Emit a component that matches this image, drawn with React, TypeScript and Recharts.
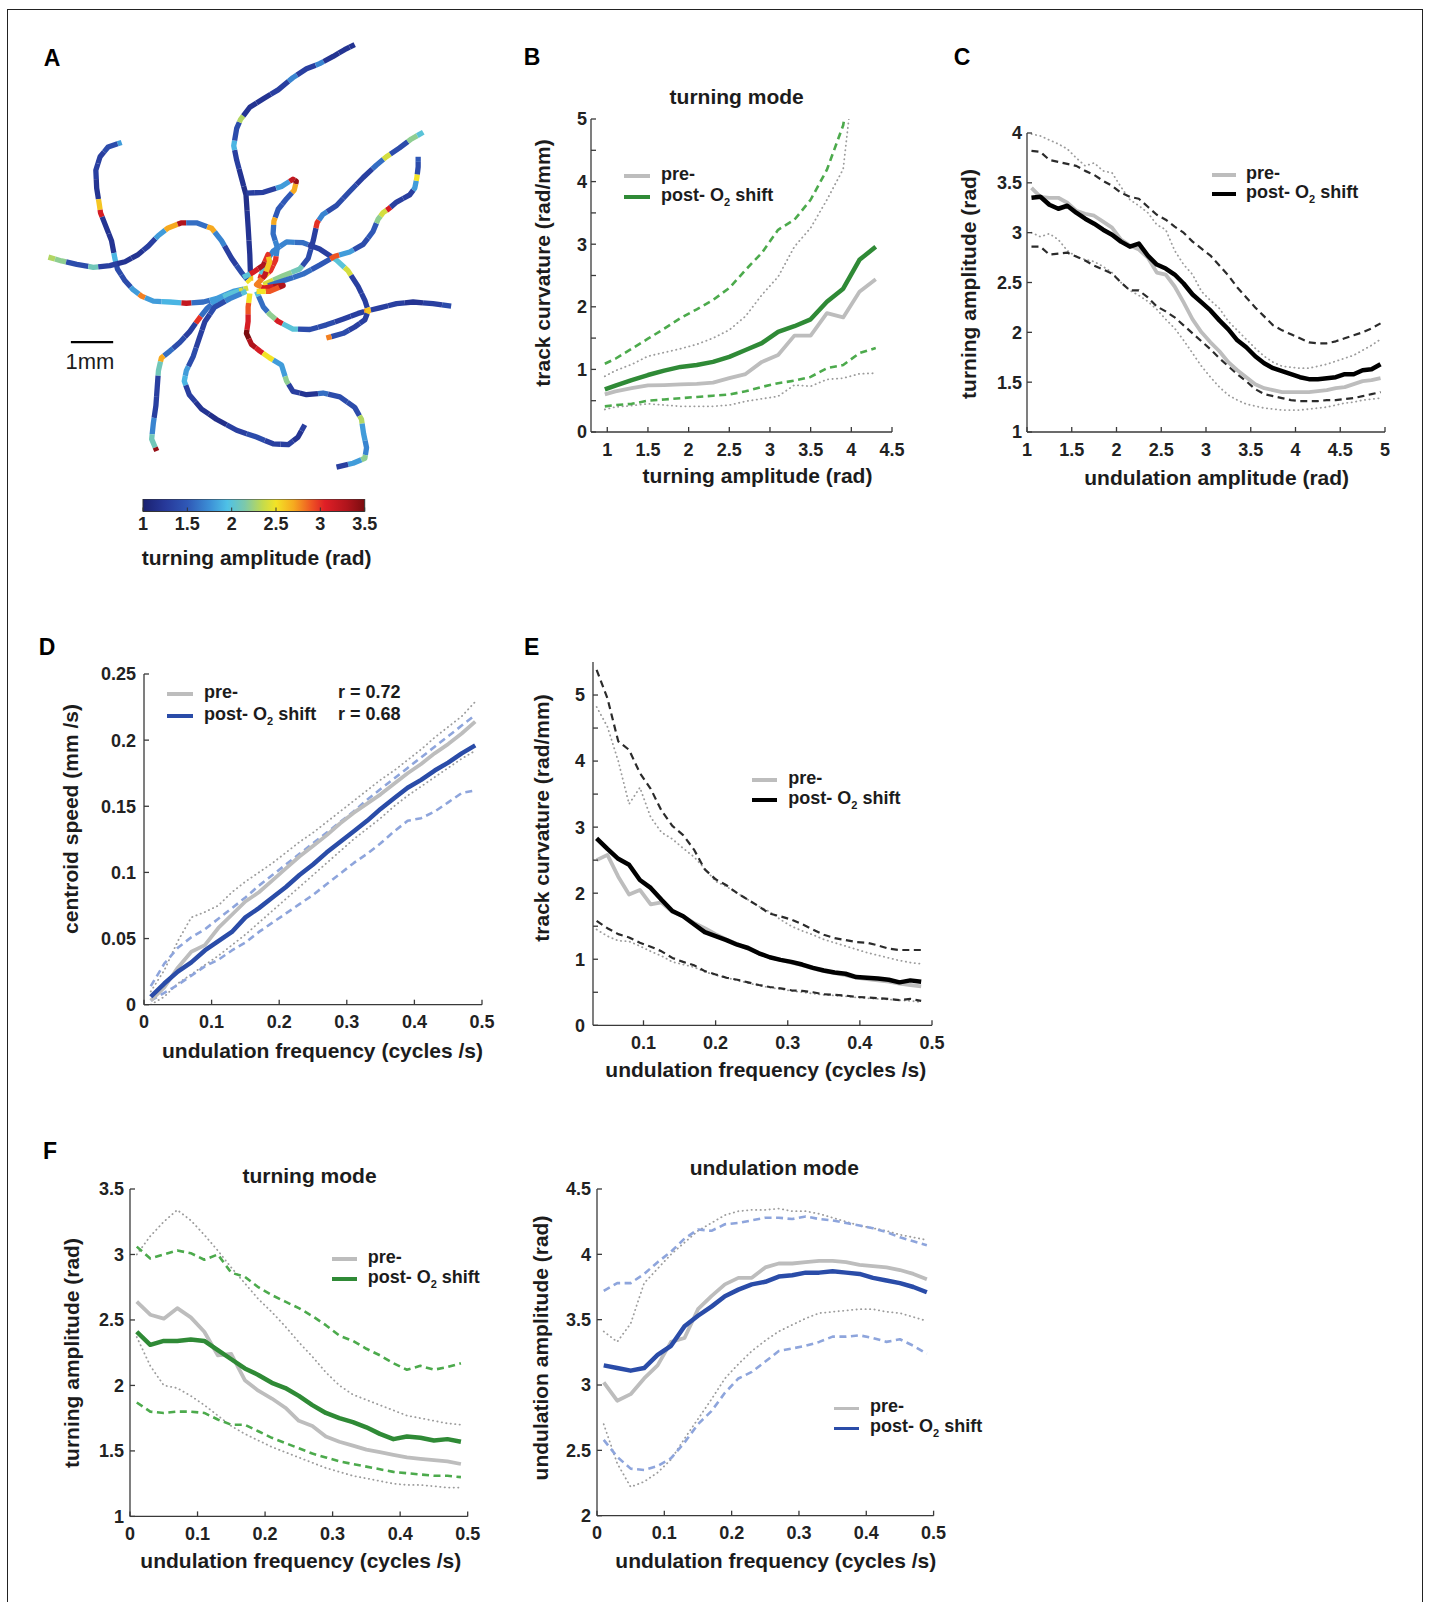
import React from 'react';
import { LineChart, Line, XAxis, YAxis, ScatterChart, Scatter, ReferenceLine, ComposedChart, Area } from 'recharts';

const FONT = '"Liberation Sans", Arial, Helvetica, sans-serif';
const INK = '#1c1c1c';
const AXIS_COL = '#3a3a3a';
const GRAY = '#bdbdbd';
const GRAY_DOT = '#9c9c9c';
const GREEN = '#2f8a36';
const GREEN_DASH = '#4caa4c';
const BLACK = '#000000';
const BLACK_DASH = '#2b2b2b';
const BLUE = '#2a4ca8';
const BLUE_DASH = '#8ea5dc';

// ---------------- Panel A: worm tracks [x mm, y mm, turning amplitude rad] ----------------
const T1 = [[-0.02,0.17,2.6],[-0.04,0.79,1.2],[-0.08,1.45,1.2],[-0.13,2.20,1.15],[-0.24,2.61,1.2],[-0.35,3.02,1.3],[-0.42,3.36,1.9],[-0.35,3.77,1.4],[-0.26,3.98,2.3],[-0.04,4.27,1.2],[0.28,4.47,1.2],[0.63,4.68,1.3],[0.98,4.97,1.7],[1.30,5.18,1.3],[1.61,5.30,1.7],[1.93,5.47,1.2],[2.20,5.63,1.2],[2.44,5.75,1.2]];
const T2 = [[-0.12,2.24,1.3],[0.28,2.26,1.3],[0.71,2.40,1.8],[0.98,2.57,3.2],[1.06,2.52,3.4],[1.01,2.31,2.7],[0.83,2.11,1.5],[0.63,1.86,1.5],[0.53,1.58,2.7],[0.51,1.28,1.6],[0.61,0.96,1.7],[0.57,0.66,3.0],[0.45,0.41,3.0],[0.28,0.25,2.6]];
const T3 = [[-3.07,3.44,1.8],[-3.39,3.33,1.4],[-3.58,3.10,1.3],[-3.68,2.78,1.3],[-3.66,2.36,1.2],[-3.60,1.99,2.6],[-3.57,1.78,3.1],[-3.44,1.45,1.2],[-3.31,1.12,1.2],[-3.23,0.70,1.9],[-3.17,0.45,1.4],[-2.99,0.17,1.4],[-2.80,-0.04,1.8],[-2.60,-0.19,2.8],[-2.32,-0.31,1.8],[-1.93,-0.33,1.9],[-1.54,-0.36,3.2],[-1.14,-0.33,1.6],[-0.83,-0.25,1.8],[-0.43,-0.08,1.8],[-0.08,0.00,2.4]];
const T4 = [[-4.80,0.73,2.3],[-4.49,0.64,2.2],[-4.13,0.56,1.4],[-3.74,0.49,2.1],[-3.35,0.53,1.3],[-2.99,0.62,1.2],[-2.68,0.79,1.2],[-2.44,0.99,1.3],[-2.20,1.24,1.8],[-1.97,1.42,2.7],[-1.65,1.54,3.3],[-1.30,1.54,1.6],[-0.94,1.41,2.7],[-0.71,1.12,1.7],[-0.47,0.70,1.3],[-0.24,0.37,1.4],[-0.04,0.13,2.5]];
const T5 = [[-0.20,-0.04,2.4],[-0.51,-0.14,2.0],[-0.83,-0.29,1.8],[-1.06,-0.49,1.6],[-1.26,-0.75,3.0],[-1.46,-1.03,1.3],[-1.69,-1.28,1.4],[-1.93,-1.49,1.6],[-2.13,-1.65,2.7],[-2.20,-1.95,2.1],[-2.23,-2.36,1.3],[-2.26,-2.78,1.3],[-2.32,-3.19,1.7],[-2.36,-3.57,2.1],[-2.24,-3.85,3.4]];
const T6 = [[-0.12,-0.08,2.0],[-0.51,-0.25,1.7],[-0.87,-0.45,1.4],[-1.10,-0.79,1.3],[-1.24,-1.20,1.3],[-1.38,-1.62,1.4],[-1.54,-1.95,1.8],[-1.59,-2.20,1.9],[-1.47,-2.52,1.3],[-1.18,-2.86,1.2],[-0.83,-3.10,1.15],[-0.35,-3.36,1.3],[0.12,-3.52,1.4],[0.51,-3.68,1.3],[0.87,-3.70,1.3],[1.10,-3.52,1.2],[1.26,-3.23,1.3]];
const T7 = [[-0.04,-0.13,2.5],[-0.08,-0.45,2.9],[-0.08,-0.79,3.1],[-0.12,-1.07,3.5],[0.00,-1.33,3.3],[0.20,-1.49,3.1],[0.43,-1.65,2.5],[0.71,-1.82,1.8],[0.83,-2.20,2.2],[0.98,-2.44,1.3],[1.30,-2.52,1.2],[1.69,-2.48,1.6],[2.09,-2.57,1.4],[2.44,-2.82,1.4],[2.60,-3.10,2.3],[2.65,-3.44,1.8],[2.72,-3.77,1.7],[2.68,-4.02,2.2],[2.40,-4.14,1.8],[2.01,-4.23,1.3]];
const T8 = [[0.12,-0.08,2.0],[0.28,-0.45,1.6],[0.43,-0.62,2.2],[0.63,-0.79,3.1],[0.98,-0.97,2.0],[1.38,-0.98,1.4],[1.77,-0.87,1.4],[2.17,-0.73,1.3],[2.52,-0.60,1.3],[2.73,-0.54,2.8],[3.03,-0.47,1.3],[3.43,-0.37,1.3],[3.82,-0.33,1.2],[4.29,-0.37,1.3],[4.72,-0.43,1.4]];
const T9 = [[0.20,0.21,3.0],[0.31,0.58,2.0],[0.51,0.87,1.7],[0.83,1.09,1.7],[1.22,1.07,1.6],[1.61,0.92,1.3],[2.01,0.66,2.0],[2.28,0.41,2.4],[2.52,0.04,1.3],[2.68,-0.29,1.3],[2.76,-0.54,2.6],[2.68,-0.75,1.3],[2.44,-0.92,1.3],[2.17,-1.07,1.4],[1.77,-1.18,2.8]];
const T10 = [[0.28,0.08,2.4],[0.75,0.29,2.2],[1.14,0.45,2.1],[1.34,0.70,1.4],[1.46,1.12,1.3],[1.55,1.54,3.0],[1.69,1.74,1.7],[2.01,1.95,1.4],[2.32,2.28,1.4],[2.64,2.61,1.3],[2.95,2.90,1.6],[3.19,3.10,2.4],[3.50,3.31,1.4],[3.78,3.52,2.2],[4.06,3.68,2.0]];
const T11 = [[0.24,0.00,2.5],[0.75,0.17,1.6],[1.22,0.33,1.6],[1.61,0.54,1.5],[1.97,0.75,2.9],[2.32,0.85,1.8],[2.64,1.03,1.4],[2.87,1.33,1.5],[2.99,1.62,2.2],[3.11,1.78,2.4],[3.23,1.86,3.1],[3.43,2.03,1.3],[3.74,2.20,1.3],[3.86,2.36,1.8],[3.91,2.61,2.5],[3.94,2.86,1.4],[3.94,3.10,1.5]];
const T12 = [[-0.20,0.25,2.0],[0.04,0.37,3.1],[0.28,0.54,3.3],[0.39,0.79,3.0],[0.43,0.62,2.6],[0.31,0.29,3.2],[0.12,0.08,2.8],[0.28,0.00,3.1],[0.75,0.06,3.3],[0.43,-0.08,2.9],[0.12,-0.08,2.5]];
const TRACKS = [T1, T2, T3, T4, T5, T6, T7, T8, T9, T10, T11, T12];
const SCALE_BAR = [{ x: -4.27, y: -1.28 }, { x: -3.27, y: -1.28 }];
const CBAR_TICKS = [1, 1.5, 2, 2.5, 3, 3.5];
const CBAR = [{ x: 1, v: 1 }, { x: 3.5, v: 1 }];

// ---------------- Panel B ----------------
const B_X = [0.97,1.1,1.3,1.5,1.7,1.9,2.1,2.3,2.5,2.7,2.9,3.1,3.3,3.5,3.7,3.9,4.1,4.3];
const B_post = [0.68,0.74,0.83,0.91,0.98,1.04,1.07,1.12,1.2,1.31,1.42,1.6,1.69,1.8,2.08,2.29,2.75,2.96];
const B_pre = [0.6,0.65,0.7,0.745,0.75,0.76,0.77,0.79,0.86,0.925,1.12,1.23,1.54,1.54,1.9,1.83,2.24,2.44];
const B_postHi = [1.09,1.17,1.33,1.49,1.65,1.82,1.96,2.11,2.3,2.59,2.86,3.23,3.39,3.71,4.19,4.9,6.5,7.5];
const B_postLo = [0.41,0.43,0.45,0.5,0.52,0.54,0.56,0.58,0.6,0.65,0.72,0.78,0.82,0.88,1.02,1.07,1.26,1.34];
const B_preHi = [0.89,0.98,1.08,1.21,1.27,1.33,1.4,1.5,1.63,1.85,2.19,2.48,2.96,3.26,3.71,4.2,6.5,7.5];
const B_preLo = [0.36,0.4,0.42,0.45,0.43,0.41,0.41,0.41,0.43,0.49,0.53,0.57,0.75,0.73,0.84,0.86,0.93,0.94];

// ---------------- Panel C ----------------
const C_X = [1.05,1.15,1.25,1.35,1.45,1.55,1.65,1.75,1.85,1.95,2.05,2.15,2.25,2.35,2.45,2.55,2.65,2.75,2.85,2.95,3.05,3.15,3.25,3.35,3.45,3.55,3.65,3.75,3.85,3.95,4.05,4.15,4.25,4.35,4.45,4.55,4.65,4.75,4.85,4.95];
const C_post = [3.35,3.36,3.28,3.24,3.27,3.2,3.14,3.09,3.03,2.98,2.91,2.86,2.89,2.77,2.68,2.64,2.58,2.49,2.38,2.3,2.22,2.12,2.03,1.92,1.85,1.76,1.69,1.64,1.61,1.58,1.55,1.53,1.53,1.54,1.55,1.58,1.58,1.62,1.63,1.68];
const C_pre = [3.45,3.36,3.35,3.35,3.3,3.22,3.19,3.17,3.11,3.05,2.93,2.87,2.83,2.75,2.6,2.58,2.46,2.3,2.13,2.0,1.9,1.81,1.7,1.62,1.55,1.48,1.44,1.42,1.4,1.4,1.4,1.4,1.41,1.42,1.44,1.45,1.48,1.51,1.52,1.54];
const C_postHi = [3.82,3.81,3.73,3.71,3.69,3.67,3.62,3.58,3.52,3.47,3.4,3.36,3.34,3.26,3.18,3.13,3.06,3.0,2.91,2.84,2.77,2.67,2.57,2.45,2.35,2.25,2.16,2.07,2.02,1.98,1.94,1.9,1.89,1.89,1.91,1.94,1.97,2.0,2.04,2.09];
const C_postLo = [2.86,2.86,2.78,2.79,2.8,2.76,2.72,2.67,2.63,2.59,2.5,2.42,2.42,2.35,2.26,2.21,2.15,2.07,1.99,1.91,1.83,1.74,1.66,1.58,1.51,1.43,1.38,1.36,1.34,1.32,1.31,1.31,1.31,1.32,1.32,1.33,1.34,1.36,1.38,1.4];
const C_preHi = [3.99,3.97,3.93,3.89,3.84,3.75,3.67,3.7,3.62,3.6,3.46,3.33,3.27,3.2,3.08,3.03,2.82,2.68,2.58,2.41,2.32,2.24,2.11,2.02,1.93,1.84,1.76,1.7,1.66,1.65,1.64,1.64,1.66,1.68,1.71,1.74,1.77,1.82,1.87,1.93];
const C_preLo = [3.0,2.96,2.99,2.93,2.82,2.76,2.73,2.71,2.66,2.6,2.5,2.42,2.37,2.31,2.23,2.13,2.04,1.92,1.79,1.66,1.55,1.45,1.37,1.32,1.28,1.26,1.24,1.23,1.22,1.22,1.22,1.23,1.24,1.25,1.27,1.29,1.3,1.32,1.33,1.34];

// ---------------- Panel D ----------------
const D_X = [0.01,0.03,0.05,0.07,0.09,0.11,0.13,0.15,0.17,0.19,0.21,0.23,0.25,0.27,0.29,0.31,0.33,0.35,0.37,0.39,0.41,0.43,0.45,0.47,0.49];
const D_post = [0.006,0.016,0.025,0.032,0.041,0.048,0.055,0.066,0.073,0.081,0.089,0.098,0.106,0.115,0.123,0.131,0.139,0.148,0.156,0.164,0.17,0.177,0.183,0.19,0.196];
const D_pre = [0.003,0.013,0.028,0.04,0.045,0.058,0.068,0.078,0.085,0.094,0.103,0.112,0.12,0.128,0.137,0.145,0.152,0.159,0.167,0.175,0.182,0.19,0.197,0.205,0.214];
const D_postHi = [0.014,0.031,0.043,0.051,0.057,0.065,0.073,0.081,0.09,0.098,0.106,0.114,0.122,0.13,0.138,0.146,0.155,0.163,0.171,0.179,0.187,0.195,0.203,0.211,0.219];
const D_postLo = [0.003,0.009,0.015,0.022,0.029,0.034,0.041,0.047,0.055,0.062,0.069,0.076,0.083,0.091,0.099,0.107,0.114,0.122,0.131,0.139,0.141,0.146,0.153,0.16,0.162];
const D_preHi = [0.01,0.026,0.048,0.066,0.07,0.075,0.085,0.093,0.1,0.107,0.115,0.123,0.13,0.138,0.146,0.154,0.162,0.17,0.177,0.185,0.193,0.202,0.21,0.218,0.229];
const D_preLo = [0.0,0.006,0.016,0.023,0.03,0.037,0.045,0.053,0.062,0.071,0.08,0.089,0.098,0.107,0.116,0.125,0.133,0.141,0.15,0.158,0.165,0.172,0.179,0.186,0.192];
const D_R = ['r = 0.72', 'r = 0.68'];

// ---------------- Panel E ----------------
const E_X = [0.035,0.05,0.065,0.08,0.095,0.11,0.125,0.14,0.155,0.17,0.185,0.2,0.215,0.23,0.245,0.26,0.275,0.29,0.305,0.32,0.335,0.35,0.365,0.38,0.395,0.41,0.425,0.44,0.455,0.47,0.485];
const E_post = [2.83,2.67,2.52,2.43,2.2,2.08,1.9,1.73,1.65,1.53,1.41,1.35,1.29,1.22,1.17,1.09,1.03,0.99,0.96,0.92,0.87,0.83,0.8,0.78,0.73,0.72,0.71,0.69,0.65,0.68,0.66];
const E_pre = [2.5,2.58,2.25,1.98,2.05,1.83,1.86,1.72,1.65,1.55,1.47,1.38,1.3,1.23,1.16,1.09,1.03,0.99,0.95,0.91,0.86,0.82,0.79,0.76,0.72,0.7,0.68,0.66,0.63,0.61,0.59];
const E_postHi = [5.38,4.95,4.3,4.17,3.82,3.58,3.25,3.02,2.88,2.66,2.36,2.21,2.12,2.0,1.9,1.8,1.69,1.65,1.6,1.53,1.45,1.37,1.32,1.29,1.26,1.25,1.21,1.16,1.14,1.14,1.14];
const E_postLo = [1.58,1.47,1.38,1.33,1.25,1.19,1.12,1.02,0.96,0.91,0.82,0.77,0.72,0.69,0.65,0.61,0.58,0.56,0.53,0.52,0.5,0.47,0.46,0.45,0.43,0.42,0.41,0.4,0.38,0.4,0.37];
const E_preHi = [4.82,4.52,4.0,3.35,3.6,3.15,2.92,2.82,2.68,2.55,2.37,2.18,2.1,2.0,1.9,1.8,1.72,1.6,1.5,1.43,1.37,1.3,1.25,1.2,1.15,1.1,1.06,1.02,0.98,0.95,0.93];
const E_preLo = [1.45,1.35,1.28,1.27,1.2,1.12,1.05,0.96,0.92,0.88,0.81,0.76,0.72,0.68,0.64,0.6,0.57,0.55,0.52,0.5,0.48,0.46,0.45,0.44,0.42,0.41,0.4,0.39,0.38,0.37,0.35];

// ---------------- Panel F (turning mode / undulation mode) ----------------
const F_X = D_X;
const F1_post = [2.41,2.31,2.34,2.34,2.35,2.34,2.27,2.2,2.13,2.08,2.02,1.98,1.92,1.85,1.79,1.75,1.72,1.68,1.63,1.59,1.61,1.6,1.58,1.59,1.57];
const F1_pre = [2.64,2.54,2.51,2.59,2.52,2.41,2.23,2.24,2.04,1.96,1.9,1.83,1.73,1.69,1.61,1.57,1.54,1.51,1.49,1.47,1.45,1.44,1.43,1.42,1.4];
const F1_postHi = [3.06,2.97,3.0,3.03,3.01,2.96,3.0,2.86,2.83,2.75,2.69,2.64,2.59,2.53,2.46,2.38,2.34,2.28,2.23,2.17,2.12,2.15,2.12,2.14,2.17];
const F1_postLo = [1.87,1.8,1.79,1.8,1.8,1.79,1.74,1.7,1.7,1.65,1.6,1.56,1.52,1.48,1.45,1.42,1.4,1.38,1.36,1.34,1.33,1.32,1.31,1.31,1.3];
const F1_preHi = [3.0,3.14,3.25,3.34,3.26,3.15,3.03,2.9,2.78,2.66,2.56,2.45,2.33,2.22,2.1,2.0,1.93,1.89,1.85,1.81,1.77,1.75,1.73,1.71,1.7];
const F1_preLo = [2.37,2.15,2.0,1.98,1.92,1.85,1.77,1.69,1.63,1.58,1.53,1.49,1.45,1.41,1.37,1.34,1.31,1.29,1.27,1.25,1.24,1.24,1.23,1.22,1.22];
const F2_post = [3.15,3.13,3.11,3.13,3.23,3.3,3.45,3.53,3.6,3.68,3.73,3.77,3.79,3.83,3.84,3.86,3.86,3.87,3.86,3.85,3.82,3.8,3.78,3.75,3.71];
const F2_pre = [3.02,2.88,2.93,3.05,3.15,3.33,3.36,3.58,3.68,3.77,3.82,3.82,3.9,3.93,3.93,3.94,3.95,3.95,3.94,3.92,3.91,3.9,3.88,3.85,3.81];
const F2_postHi = [3.72,3.78,3.78,3.85,3.94,4.02,4.12,4.19,4.18,4.23,4.24,4.26,4.28,4.28,4.27,4.29,4.27,4.26,4.24,4.22,4.2,4.17,4.13,4.1,4.07];
const F2_postLo = [2.58,2.45,2.36,2.35,2.38,2.44,2.56,2.7,2.8,2.94,3.05,3.1,3.18,3.26,3.28,3.3,3.33,3.37,3.37,3.38,3.36,3.33,3.35,3.3,3.24];
const F2_preHi = [3.41,3.33,3.47,3.78,3.89,4.0,4.09,4.18,4.24,4.3,4.33,4.34,4.34,4.35,4.33,4.33,4.31,4.28,4.25,4.22,4.2,4.18,4.15,4.13,4.11];
const F2_preLo = [2.7,2.4,2.22,2.26,2.33,2.43,2.59,2.74,2.89,3.05,3.16,3.26,3.34,3.41,3.46,3.51,3.55,3.56,3.57,3.58,3.58,3.56,3.55,3.52,3.49];

// ---------------- helpers ----------------
function table(xs: number[], cols: Record<string, number[]>) {
  return xs.map((x, i) => {
    const r: any = { x };
    for (const k of Object.keys(cols)) r[k] = cols[k][i];
    return r;
  });
}

const JET: [number, string][] = [[0,'#1a2170'],[0.1,'#27399a'],[0.2,'#2f58b6'],[0.3,'#3c8fd6'],[0.38,'#4ec1e7'],[0.46,'#7dc9aa'],[0.54,'#c4db4c'],[0.6,'#f3e326'],[0.68,'#f6a91f'],[0.76,'#ee5423'],[0.82,'#df1f26'],[0.92,'#b0141c'],[1,'#7a0c0f']];
function hex(c: string) { return [1, 3, 5].map(i => parseInt(c.slice(i, i + 2), 16)); }
function jet(v: number) {
  const t = Math.max(0, Math.min(1, (v - 1) / 2.5));
  for (let i = 0; i < JET.length - 1; i++) {
    const [t0, c0] = JET[i], [t1, c1] = JET[i + 1];
    if (t <= t1) {
      const f = (t - t0) / (t1 - t0);
      const a = hex(c0), b = hex(c1);
      const m = a.map((u, k) => Math.round(u + (b[k] - u) * f));
      return `rgb(${m[0]},${m[1]},${m[2]})`;
    }
  }
  return JET[JET.length - 1][1];
}

function pieces(track: number[][]) {
  const n = track.length;
  const split = (i: number) => {
    const [x0, y0, a0] = track[i];
    const [x1, y1, a1] = track[i + 1];
    const t = a0 > a1 + 0.2 ? 0.3 : a1 > a0 + 0.2 ? 0.7 : 0.5;
    return { x: x0 + (x1 - x0) * t, y: y0 + (y1 - y0) * t };
  };
  return track.map((p, i) => ({
    color: jet(p[2]),
    pts: [i > 0 ? split(i - 1) : { x: p[0], y: p[1] }, { x: p[0], y: p[1] }, i < n - 1 ? split(i) : { x: p[0], y: p[1] }],
  }));
}

const tickStyle = { fill: '#222', fontSize: 18, fontWeight: 700, fontFamily: FONT };
const intOnly = (v: number) => (Math.abs(v - Math.round(v)) < 1e-9 ? String(Math.round(v)) : '');

type S = { key: string; color: string; width: number; dash?: string; round?: boolean };
function seriesFor(accent: string, accentDash: string, dashW: number): S[] {
  return [
    { key: 'preLo', color: GRAY_DOT, width: 1.8, dash: '0.3 4.2', round: true },
    { key: 'preHi', color: GRAY_DOT, width: 1.8, dash: '0.3 4.2', round: true },
    { key: 'postLo', color: accentDash, width: dashW, dash: '7 4.5' },
    { key: 'postHi', color: accentDash, width: dashW, dash: '7 4.5' },
    { key: 'pre', color: GRAY, width: 3.8 },
    { key: 'post', color: accent, width: 4.5 },
  ];
}

function Panel(p: any) {
  const YW = 70, MT = 12, MR = 28, XH = 44;
  const axisLine = { stroke: AXIS_COL, strokeWidth: 1.3 };
  return (
    <div style={{ position: 'absolute', left: p.px - YW, top: p.py - MT }}>
      <LineChart width={p.pw + YW + MR} height={p.ph + MT + XH} data={p.data} margin={{ top: MT, right: MR, bottom: 0, left: 0 }}>
        <XAxis type="number" dataKey="x" domain={p.xDomain} ticks={p.xTicks} interval={0} allowDataOverflow height={XH}
          tickSize={-5} tickMargin={16} axisLine={axisLine} tickLine={axisLine} tick={tickStyle} />
        <YAxis type="number" domain={p.yDomain} ticks={p.yTicks} tickFormatter={p.yFmt} interval={0} allowDataOverflow width={YW}
          tickSize={-5} tickMargin={p.yGap + 5} axisLine={axisLine} tickLine={axisLine} tick={tickStyle} />
        {p.series.map((s: S) => (
          <Line key={s.key} type="linear" dataKey={s.key} stroke={s.color} strokeWidth={s.width} strokeDasharray={s.dash}
            strokeLinecap={s.round ? 'round' : 'butt'} strokeLinejoin="round" dot={false} activeDot={false} isAnimationActive={false} />
        ))}
      </LineChart>
    </div>
  );
}

function Txt({ x, y, size = 21, weight = 700, rot = false, left = false, children }: any) {
  const tf = rot ? 'translate(calc(-50% - 0.1em), -50%) rotate(-90deg)' : left ? 'translate(0, -60%)' : 'translate(-50%, -60%)';
  return (
    <div style={{ position: 'absolute', left: x, top: y, transform: tf, fontSize: size, fontWeight: weight, fontFamily: FONT, whiteSpace: 'nowrap', lineHeight: 1, color: INK }}>
      {children}
    </div>
  );
}

function Letter({ x, y, children }: any) {
  return (
    <div style={{ position: 'absolute', left: x, top: y, transform: 'translate(-50%, -50%)', fontSize: 23, fontWeight: 700, fontFamily: FONT, lineHeight: 1, color: '#000' }}>{children}</div>
  );
}

const PostLabel = () => (
  <span>post- O<span style={{ fontSize: 11, position: 'relative', top: 5 }}>2</span> shift</span>
);

function Legend2({ x1, x2, y1, y2, tx, color }: any) {
  return (
    <>
      <div style={{ position: 'absolute', left: x1, top: y1 - 1.8, width: x2 - x1, height: 3.6, background: GRAY }} />
      <div style={{ position: 'absolute', left: x1, top: y2 - 1.8, width: x2 - x1, height: 3.6, background: color }} />
      <Txt x={tx} y={y1} size={18} left>pre-</Txt>
      <Txt x={tx} y={y2} size={18} left><PostLabel /></Txt>
    </>
  );
}

function TrackPanel() {
  const all = TRACKS.flatMap(pieces);
  return (
    <div style={{ position: 'absolute', left: 40, top: 34 }}>
      <ScatterChart width={423} height={453} margin={{ top: 0, right: 0, bottom: 0, left: 0 }}>
        <XAxis type="number" dataKey="x" domain={[-5, 5]} hide />
        <YAxis type="number" dataKey="y" domain={[-4.7, 6.0]} hide />
        {all.map((pc, k) => (
          <Scatter key={k} data={pc.pts} fill={pc.color} lineType="joint" isAnimationActive={false}
            line={{ stroke: pc.color, strokeWidth: 5.3, strokeLinecap: 'butt', strokeLinejoin: 'round' }}
            shape={() => <g />} />
        ))}
        <ReferenceLine segment={SCALE_BAR} stroke="#000" strokeWidth={2.2} />
      </ScatterChart>
    </div>
  );
}

function ColorBar() {
  return (
    <div style={{ position: 'absolute', left: 123.3, top: 499 }}>
      <ComposedChart width={261.7} height={42.5} data={CBAR} margin={{ top: 0, right: 20, bottom: 0, left: 20 }}>
        <defs>
          <linearGradient id="jetGrad" x1="0" y1="0" x2="1" y2="0">
            {JET.map(([t, c]) => <stop key={t} offset={t} stopColor={c} />)}
          </linearGradient>
        </defs>
        <XAxis type="number" dataKey="x" domain={[1, 3.5]} ticks={CBAR_TICKS} interval={0} height={30} tickSize={-4} tickMargin={10}
          axisLine={{ stroke: '#333', strokeWidth: 1 }} tickLine={{ stroke: '#333', strokeWidth: 1 }} tick={tickStyle} />
        <YAxis type="number" dataKey="v" domain={[0, 1]} hide />
        <Area type="linear" dataKey="v" baseValue={0} fill="url(#jetGrad)" fillOpacity={1} stroke="#333" strokeWidth={1} dot={false} activeDot={false} isAnimationActive={false} />
        <ReferenceLine x={1} stroke="#333" strokeWidth={1} />
        <ReferenceLine x={3.5} stroke="#333" strokeWidth={1} />
      </ComposedChart>
    </div>
  );
}

const dataB = table(B_X, { pre: B_pre, post: B_post, preHi: B_preHi, preLo: B_preLo, postHi: B_postHi, postLo: B_postLo });
const dataC = table(C_X, { pre: C_pre, post: C_post, preHi: C_preHi, preLo: C_preLo, postHi: C_postHi, postLo: C_postLo });
const dataD = table(D_X, { pre: D_pre, post: D_post, preHi: D_preHi, preLo: D_preLo, postHi: D_postHi, postLo: D_postLo });
const dataE = table(E_X, { pre: E_pre, post: E_post, preHi: E_preHi, preLo: E_preLo, postHi: E_postHi, postLo: E_postLo });
const dataF1 = table(F_X, { pre: F1_pre, post: F1_post, preHi: F1_preHi, preLo: F1_preLo, postHi: F1_postHi, postLo: F1_postLo });
const dataF2 = table(F_X, { pre: F2_pre, post: F2_post, preHi: F2_preHi, preLo: F2_preLo, postHi: F2_postHi, postLo: F2_postLo });

const X_FREQ = [0, 0.1, 0.2, 0.3, 0.4, 0.5];

export default function App() {
  return (
    <div style={{ position: 'absolute', left: 0, top: 0, width: 1429, height: 1602, overflow: 'hidden', background: '#fff', fontFamily: FONT }}>
      <div style={{ position: 'absolute', left: 7, top: 9, width: 1416, height: 1640, border: '1.5px solid #222', boxSizing: 'border-box' }} />

      {/* A */}
      <Letter x={52} y={58}>A</Letter>
      <TrackPanel />
      <Txt x={90} y={364} size={22} weight={400}>1mm</Txt>
      <ColorBar />
      <Txt x={256.7} y={560}>turning amplitude (rad)</Txt>

      {/* B */}
      <Letter x={532} y={57}>B</Letter>
      <Txt x={736.7} y={99}>turning mode</Txt>
      <Panel px={591} py={119} pw={301} ph={313} data={dataB} series={seriesFor(GREEN, GREEN_DASH, 2.6)}
        xDomain={[0.8, 4.5]} xTicks={[1, 1.5, 2, 2.5, 3, 3.5, 4, 4.5]}
        yDomain={[0, 5]} yTicks={[0, 0.5, 1, 1.5, 2, 2.5, 3, 3.5, 4, 4.5, 5]} yFmt={intOnly} yGap={4} />
      <Txt x={545} y={263} rot>track curvature (rad/mm)</Txt>
      <Txt x={757.5} y={478.3}>turning amplitude (rad)</Txt>
      <Legend2 x1={624} x2={650} y1={176} y2={197} tx={661} color={GREEN} />

      {/* C */}
      <Letter x={962} y={57}>C</Letter>
      <Panel px={1027} py={133.3} pw={358} ph={299} data={dataC} series={seriesFor(BLACK, BLACK_DASH, 2.2)}
        xDomain={[1, 5]} xTicks={[1, 1.5, 2, 2.5, 3, 3.5, 4, 4.5, 5]}
        yDomain={[1, 4]} yTicks={[1, 1.5, 2, 2.5, 3, 3.5, 4]} yGap={5} />
      <Txt x={970.8} y={284} rot>turning amplitude (rad)</Txt>
      <Txt x={1216.7} y={480}>undulation amplitude (rad)</Txt>
      <Legend2 x1={1212} x2={1236} y1={175} y2={194} tx={1246} color={BLACK} />

      {/* D */}
      <Letter x={47} y={647}>D</Letter>
      <Panel px={144.3} py={674.3} pw={338} ph={330.7} data={dataD} series={seriesFor(BLUE, BLUE_DASH, 2.6)}
        xDomain={[0, 0.5]} xTicks={X_FREQ}
        yDomain={[0, 0.25]} yTicks={[0, 0.05, 0.1, 0.15, 0.2, 0.25]} yGap={8} />
      <Txt x={72.5} y={819} rot>centroid speed (mm /s)</Txt>
      <Txt x={322.5} y={1053}>undulation frequency (cycles /s)</Txt>
      <Legend2 x1={167} x2={193} y1={694} y2={716} tx={204} color={BLUE} />
      <Txt x={338} y={694} size={18} left>{D_R[0]}</Txt>
      <Txt x={338} y={716} size={18} left>{D_R[1]}</Txt>

      {/* E */}
      <Letter x={531.7} y={646.7}>E</Letter>
      <Panel px={593.3} py={661.7} pw={339} ph={363.3} data={dataE} series={seriesFor(BLACK, BLACK_DASH, 2.2)}
        xDomain={[0.03, 0.5]} xTicks={[0.1, 0.2, 0.3, 0.4, 0.5]}
        yDomain={[0, 5.5]} yTicks={[0, 0.5, 1, 1.5, 2, 2.5, 3, 3.5, 4, 4.5, 5]} yFmt={intOnly} yGap={8} />
      <Txt x={544} y={818} rot>track curvature (rad/mm)</Txt>
      <Txt x={765.8} y={1071.7}>undulation frequency (cycles /s)</Txt>
      <Legend2 x1={751.7} x2={776.7} y1={780} y2={800} tx={788.3} color={BLACK} />

      {/* F */}
      <Letter x={50} y={1150.7}>F</Letter>
      <Txt x={309.5} y={1177.5}>turning mode</Txt>
      <Panel px={130} py={1189.3} pw={337.7} ph={327.4} data={dataF1} series={seriesFor(GREEN, GREEN_DASH, 2.6)}
        xDomain={[0, 0.5]} xTicks={X_FREQ}
        yDomain={[1, 3.5]} yTicks={[1, 1.5, 2, 2.5, 3, 3.5]} yGap={6} />
      <Txt x={74} y={1352.5} rot>turning amplitude (rad)</Txt>
      <Txt x={300.8} y={1562.5}>undulation frequency (cycles /s)</Txt>
      <Legend2 x1={331.7} x2={357.3} y1={1259} y2={1279} tx={367.7} color={GREEN} />

      <Txt x={774.3} y={1169.5}>undulation mode</Txt>
      <Panel px={596.7} py={1189.3} pw={336.6} ph={326.7} data={dataF2} series={seriesFor(BLUE, BLUE_DASH, 2.6)}
        xDomain={[0, 0.5]} xTicks={X_FREQ}
        yDomain={[2, 4.5]} yTicks={[2, 2.5, 3, 3.5, 4, 4.5]} yGap={6} />
      <Txt x={543} y={1347.5} rot>undulation amplitude (rad)</Txt>
      <Txt x={775.8} y={1562.5}>undulation frequency (cycles /s)</Txt>
      <Legend2 x1={834.3} x2={859.3} y1={1408.3} y2={1428.3} tx={870} color={BLUE} />
    </div>
  );
}
